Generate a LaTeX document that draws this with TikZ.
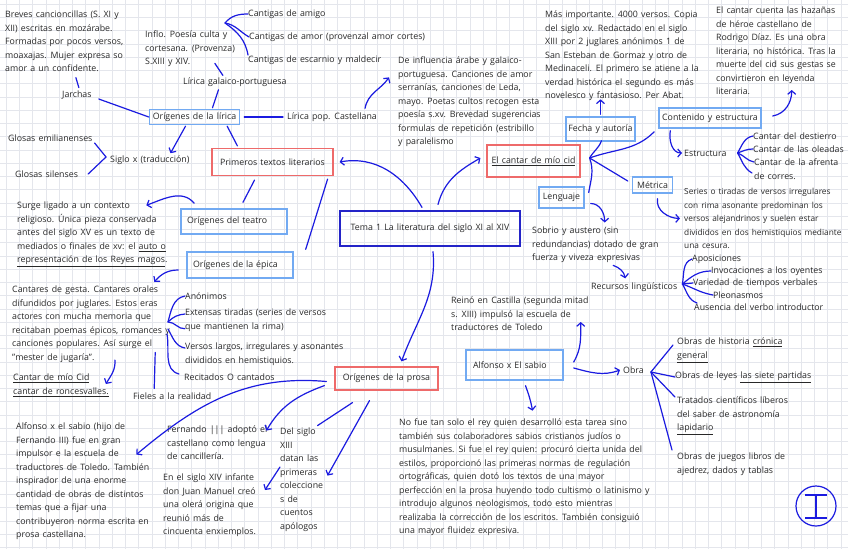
\documentclass[tikz,border=0pt]{standalone}
\usepackage{fontspec}
\setmainfont{Open Sans}[WordSpace=1.4]
\usepackage{tikz}
\usetikzlibrary{arrows.meta,positioning,calc}
\definecolor{ink}{HTML}{1B1BE0}
\definecolor{boxblue}{HTML}{72AAF2}
\definecolor{boxred}{HTML}{EE6A6A}
\definecolor{temablue}{HTML}{2424C8}
\definecolor{sheet}{HTML}{E4E6EC}
\definecolor{pen}{HTML}{282828}
\tikzset{
  txt/.style={anchor=north west, align=left, inner sep=0pt, yshift=-2pt, text=pen, font=\fontsize{8.8}{13.5}\selectfont},
  lbl/.style={anchor=west, inner sep=0pt, text=pen, font=\fontsize{8.8}{13.5}\selectfont},
  box/.style={draw, line width=1.2pt, inner sep=0pt, text=pen, font=\fontsize{8.8}{13.5}\selectfont},
  bluebox/.style={box, draw=boxblue, line width=1.4pt},
  redbox/.style={box, draw=boxred},
  leftbox/.style={align=left, inner xsep=6pt},
  link/.style={ink, line width=1.2pt, line cap=round},
  arr/.style={link, -{Straight Barb[length=3.5pt,width=8pt]}}
}
\begin{document}
\begin{tikzpicture}[x=1pt,y=-1pt]
  \useasboundingbox (0,0) rectangle (848,549);
  \fill[white] (0,0) rectangle (848,549);
  \foreach \g in {6,19.25,...,848} \draw[sheet, line width=0.5pt] (\g,0) -- (\g,549);
  \foreach \g in {4,17.25,...,549} \draw[sheet, line width=0.5pt] (0,\g) -- (848,\g);

  \node[txt] (breves) at (5,9) {Breves cancioncillas (S. XI y\\XII) escritas en mozárabe.\\Formadas por pocos versos,\\moaxajas. Mujer expresa so\\amor a un confidente.};
  \node[lbl] (jarchas) at (62,95) {Jarchas};
  \node[txt] (inflo) at (145,29) {Inflo. Poesía culta y\\cortesana. (Provenza)\\S.XIII y XIV.};
  \node[lbl] (galaico) at (183,82) {Lírica galaico-portuguesa};
  \node[lbl] (amigo) at (248,14) {Cantigas de amigo};
  \node[lbl] (amor) at (249,37) {Cantigas de amor (provenzal amor cortes)};
  \node[lbl] (escarnio) at (248,60) {Cantigas de escarnio y maldecir};
  \node[txt] (influencia) at (398,55) {De influencia árabe y galaico-\\portuguesa. Canciones de amor\\serranías, canciones de Leda,\\mayo. Poetas cultos recogen esta\\poesía s.xv. Brevedad sugerencias\\formulas de repetición (estribillo\\y paralelismo};
  \node[lbl] (pop) at (287,117) {Lírica pop. Castellana};
  \node[bluebox, minimum width=90pt, minimum height=15pt] (lirica) at (194.5,117) {Orígenes de la lírica};
  \node[lbl] (emil) at (8,138) {Glosas emilianenses};
  \node[lbl] (silen) at (15,174) {Glosas silenses};
  \node[lbl] (siglox) at (110,160) {Siglo x (traducción)};
  \node[redbox, minimum width=121pt, minimum height=27pt] (primeros) at (272.5,162) {Primeros textos literarios};
  \node[txt] (surge) at (17,200) {Surge ligado a un contexto\\religioso. Única pieza conservada\\antes del siglo XV es un texto de\\mediados o finales de xv: el \underline{auto o}\\\underline{representación de los Reyes magos}.};
  \node[bluebox, leftbox, text width=94pt, minimum height=25pt] (teatro) at (234,221.5) {Orígenes del teatro};
  \node[bluebox, leftbox, text width=94pt, minimum height=26pt] (epica) at (240,265) {Orígenes de la épica};
  \node[box, draw=temablue, minimum width=180pt, minimum height=35pt] (tema) at (430,228.5) {Tema 1 La literatura del siglo XI al XIV};
  \node[redbox, minimum width=93pt, minimum height=32pt] (cantar) at (533.5,161) {\underline{El cantar de mío cid}};
  \node[txt] (mas) at (545,9) {Más importante. 4000 versos. Copia\\del siglo xv. Redactado en el siglo\\XIII por 2 juglares anónimos 1 de\\San Esteban de Gormaz y otro de\\Medinaceli. El primero se atiene a la\\verdad histórica el segundo es más\\novelesco y fantasioso. Per Abat.};
  \node[txt] (cuenta) at (716,5) {El cantar cuenta las hazañas\\de héroe castellano de\\Rodrigo Díaz. Es una obra\\literaria, no histórica. Tras la\\muerte del cid sus gestas se\\convirtieron en leyenda\\literaria.};
  \node[bluebox, minimum width=69pt, minimum height=24pt] (fecha) at (600.5,129) {Fecha y autoría};
  \node[bluebox, minimum width=102pt, minimum height=20pt] (contenido) at (710,118) {Contenido y estructura};
  \node[lbl] (estructura) at (684,153) {Estructura};
  \node[lbl] (destierro) at (753,136) {Cantar del destierro};
  \node[lbl] (oleadas) at (753,149) {Cantar de las oleadas};
  \node[lbl] (afrenta) at (754,162) {Cantar de la afrenta};
  \node[lbl] (corres) at (754,176) {de corres.};
  \node[bluebox, minimum width=40pt, minimum height=16pt] (metrica) at (652.5,185) {Métrica};
  \node[txt, font=\fontsize{8.3}{13.5}\selectfont] (series) at (684,186) {Series o tiradas de versos irregulares\\con rima asonante predominan los\\versos alejandrinos y suelen estar\\divididos en dos hemistiquios mediante\\una cesura.};
  \node[bluebox, minimum width=45pt, minimum height=21pt] (lenguaje) at (561.5,197.5) {Lenguaje};
  \node[txt] (sobrio) at (532,225) {Sobrio y austero (sin\\redundancias) dotado de gran\\fuerza y viveza expresivas};
  \node[lbl] (recursos) at (591,287) {Recursos lingüísticos};
  \node[lbl] (apos) at (692,259) {Aposiciones};
  \node[lbl] (invoc) at (711,271) {Invocaciones a los oyentes};
  \node[lbl] (variedad) at (693,283) {Variedad de tiempos verbales};
  \node[lbl] (pleon) at (713,295) {Pleonasmos};
  \node[lbl] (ausencia) at (694,307) {Ausencia del verbo introductor};
  \node[txt] (reino) at (451,295) {Reinó en Castilla (segunda mitad\\s. XIII) impulsó la escuela de\\traductores de Toledo};
  \node[bluebox, leftbox, inner xsep=7pt, text width=83pt, minimum height=30pt] (alfonso) at (514.5,365) {Alfonso x El sabio};
  \node[lbl] (obra) at (623,370) {Obra};
  \node[txt] (historia) at (677,336) {Obras de historia \underline{crónica}\\\underline{general}};
  \node[lbl] (leyes) at (675,377) {Obras de leyes \underline{las siete partidas}};
  \node[txt] (tratados) at (677,395) {Tratados científicos líberos\\del saber de astronomía\\\underline{lapidario}};
  \node[txt] (juegos) at (677,451) {Obras de juegos libros de\\ajedrez, dados y tablas};
  \node[txt] (nofue) at (399,417) {No fue tan solo el rey quien desarrolló esta tarea sino\\también sus colaboradores sabios cristianos judíos o\\musulmanes. Si fue el rey quien: procuró cierta unida del\\estilos, proporcionó las primeras normas de regulación\\ortográficas, quien dotó los textos de una mayor\\perfección en la prosa huyendo todo cultismo o latinismo y\\introdujo algunos neologismos, todo esto mientras\\realizaba la corrección de los escritos. También consiguió\\una mayor fluidez expresiva.};
  \node[redbox, minimum width=103pt, minimum height=23pt] (prosa) at (386.5,378.5) {Orígenes de la prosa};
  \node[txt] (cantares) at (12,284) {Cantares de gesta. Cantares orales\\difundidos por juglares. Estos eras\\actores con mucha memoria que\\recitaban poemas épicos, romances y\\canciones populares. Así surge el\\"mester de jugaría".};
  \node[txt] (cid) at (13,372) {\underline{Cantar de mío Cid}\\\underline{cantar de roncesvalles.}};
  \node[lbl] (anon) at (185,296) {Anónimos};
  \node[txt] (extensas) at (185,307) {Extensas tiradas (series de versos\\que mantienen la rima)};
  \node[txt] (versos) at (185,341) {Versos largos, irregulares y asonantes\\divididos en hemistiquios.};
  \node[lbl] (recitados) at (184,377) {Recitados O cantados};
  \node[lbl] (fieles) at (133,396) {Fieles a la realidad};
  \node[txt] (alfx) at (16,421) {Alfonso x el sabio (hijo de\\Fernando III) fue en gran\\impulsor e la escuela de\\traductores de Toledo. También\\inspirador de una enorme\\cantidad de obras de distintos\\temas que a fijar una\\contribuyeron norma escrita en\\prosa castellana.};
  \node[txt] (fernando) at (167,424) {Fernando ||| adoptó el\\castellano como lengua\\de cancillería.};
  \node[txt] (juan) at (163,472) {En el siglo XIV infante\\don Juan Manuel creó\\una olerá origina que\\reunió más de\\cincuenta enxiemplos.};
  \node[txt] (delsiglo) at (280,426) {Del siglo\\XIII\\datan las\\primeras\\coleccione\\s de\\cuentos\\apólogos};

  \draw[link] (lirica.west) -- ([xshift=7pt,yshift=-4pt]jarchas.east);
  \draw[link] ([xshift=2pt,yshift=3pt]jarchas.north) -- ++(-3,-10);
  \draw[link] ([xshift=18pt,yshift=1pt]lirica.north) -- ++(6,-18);
  \draw[link] ([xshift=-12pt,yshift=2pt]galaico.north) -- ++(-8,-12);
  \coordinate (cfan) at (225,23);
  \draw[link] (cfan) to[out=50,in=180] (amigo.west);
  \draw[link] (cfan) to[out=-10,in=150] (amor.west);
  \draw[link] (cfan) to[out=-35,in=100] ([yshift=5pt]escarnio.west);
  \draw[link] ([xshift=4pt]lirica.east) -- ([xshift=-4pt]pop.west);
  \draw[arr] ([xshift=-12pt,yshift=4pt]pop.north east) to[out=80,in=235] ++(24,-31);
  \draw[arr] ([xshift=-9pt,yshift=-1pt]lirica.south) -- ++(-15,27);
  \draw[link] ([xshift=2pt,yshift=-5pt]emil.east) -- ([xshift=-4pt,yshift=3pt]siglox.west) -- ([xshift=10pt]silen.east);
  \draw[link] ([xshift=26pt,yshift=2pt]primeros.north west) -- ([xshift=-13pt,yshift=-1pt]lirica.south east);
  \draw[link] ([xshift=-18pt,yshift=-4pt]primeros.south) -- ([xshift=9pt,yshift=6pt]teatro.north);
  \draw[link] ([xshift=-6pt,yshift=-3pt]primeros.south east) -- ([xshift=12pt,yshift=2pt]epica.north east);
  \draw[arr] ([xshift=14pt,yshift=5pt]teatro.north west) to[out=130,in=20] ++(-48,2);
  \draw[arr] ([xshift=-8pt,yshift=-5pt]epica.west) to[out=180,in=50] ++(-24,12);

  \coordinate (efan) at (168,322);
  \draw[link] (efan) to[out=75,in=190] (anon.west);
  \draw[link] (efan) to[out=45,in=185] ([yshift=-5pt]extensas.north west);
  \draw[link] (efan) to[out=0,in=185] ([yshift=3pt]extensas.south west);
  \draw[link] ([yshift=-7pt]efan) to[out=-60,in=170] ([yshift=-5pt]versos.north west);
  \draw[link] ([xshift=-1pt,yshift=-12pt]efan) to[out=-80,in=165] ([xshift=-5pt,yshift=3pt]recitados.west);
  \draw[link] ([xshift=-18pt,yshift=4pt]fieles.north) -- ++(1,-36);
  \draw[arr] ([xshift=6pt,yshift=14pt]cid.north east) to[out=-85,in=60] ([xshift=-3pt,yshift=-10pt]cid.north east);

  \draw[arr] ([xshift=-8pt,yshift=3pt]tema.north) to[out=120,in=10] ([xshift=6pt]primeros.east);
  \draw[arr] ([xshift=8pt,yshift=6pt]tema.north) to[out=75,in=210] ([xshift=-6pt,yshift=3pt]cantar.west);
  \draw[arr] ([xshift=3pt,yshift=-5pt]tema.south) to[out=-85,in=70] ([xshift=15pt,yshift=5pt]prosa.north);

  \coordinate (cfork) at ([xshift=9pt,yshift=3pt]cantar.east);
  \draw[link] (cfork) to[out=60,in=250] ([xshift=1pt,yshift=1pt]fecha.south);
  \draw[link] (cfork) to[out=20,in=225] ([xshift=-4pt,yshift=-3pt]contenido.south west);
  \draw[link] (cfork) -- ([xshift=-4pt,yshift=4pt]metrica.west);
  \draw[link] (cfork) to[out=-70,in=80] ([xshift=4pt,yshift=5pt]lenguaje.east);
  \draw[arr] ([yshift=2pt]fecha.north) -- ++(0,-15);
  \draw[arr] ([xshift=11pt,yshift=2pt]contenido.east) to[out=10,in=270] ++(19,-26);
  \draw[arr] ([xshift=12pt,yshift=-2pt]contenido.south west) to[out=-100,in=180] ([xshift=-2pt]estructura.west);
  \coordinate (sfork) at ([xshift=11pt]estructura.east);
  \draw[link] (sfork) to[out=60,in=190] (destierro.west);
  \draw[link] (sfork) to[out=20,in=180] (oleadas.west);
  \draw[link] (sfork) to[out=-20,in=170] (afrenta.west);
  \draw[link] (sfork) to[out=-60,in=150] ([xshift=-2pt,yshift=3pt]corres.west);
  \draw[arr] ([xshift=5pt,yshift=-5pt]metrica.south) to[out=-100,in=180] ([xshift=-4pt]series.west);
  \draw[arr] ([xshift=6pt,yshift=-6pt]lenguaje.east) to[out=0,in=90] ++(14,19);
  \draw[arr] ([xshift=-21pt,yshift=17pt]recursos.north) to[out=-20,in=100] ([xshift=-9pt,yshift=4pt]recursos.north);
  \coordinate (rfork) at ([xshift=5pt,yshift=3pt]recursos.east);
  \draw[link] (rfork) to[out=80,in=200] (apos.west);
  \draw[link] (rfork) to[out=40,in=180] (invoc.west);
  \draw[link] (rfork) -- (variedad.west);
  \draw[link] (rfork) to[out=-20,in=170] (pleon.west);
  \draw[link] (rfork) to[out=-60,in=160] ([xshift=3pt,yshift=4pt]ausencia.west);

  \draw[arr] ([xshift=10pt,yshift=3pt]alfonso.east) to[out=60,in=270] ++(7,-40);
  \draw[arr] ([xshift=10pt,yshift=-3pt]alfonso.east) to[out=-15,in=200] ([xshift=-3pt]obra.west);
  \coordinate (ofork) at ([xshift=7pt,yshift=-2pt]obra.east);
  \draw[link] (ofork) -- ([xshift=-4pt,yshift=-7pt]historia.north west);
  \draw[link] (ofork) -- (leyes.west);
  \draw[link] (ofork) -- ([xshift=-2pt]tratados.north west);
  \draw[link] (ofork) -- ([xshift=-5pt,yshift=3pt]juegos.north west);
  \draw[arr] ([xshift=11pt,yshift=-5pt]alfonso.south) to[out=-70,in=100] ++(7,25);

  \draw[arr] ([xshift=-8pt,yshift=-3pt]prosa.west) to[out=175,in=40] ++(-190,73);
  \draw[arr] ([xshift=-10pt,yshift=5pt]prosa.south west) to[out=200,in=60] ++(-58,45);
  \draw[link] ([xshift=-34pt,yshift=-12pt]prosa.south) -- ++(-35,23);
  \draw[arr] ([xshift=-17pt,yshift=-10pt]prosa.south) -- ++(-42,75);
  \draw[arr] ([yshift=-39pt]delsiglo.north west) -- ++(-15,23);

  \draw[ink, line width=1.2pt] (816,506) circle (20pt);
  \draw[ink, line width=1.2pt] (805,495) -- (827,495) (816,495) -- (816,518) (805,518) -- (827,518);
\end{tikzpicture}
\end{document}
